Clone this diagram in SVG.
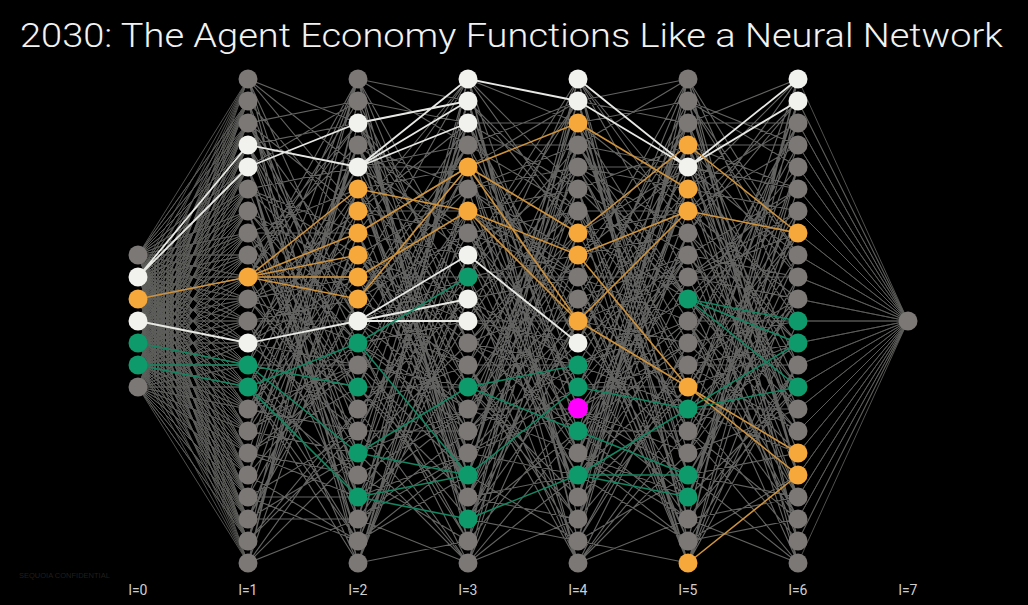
<svg xmlns="http://www.w3.org/2000/svg" xmlns:xlink="http://www.w3.org/1999/xlink" width="1028" height="605" viewBox="0 0 1028 605">
<style>
.bg{fill:#000}
.ge{fill:none;stroke:#636362;stroke-width:1.15;stroke-linejoin:round}
.fe{fill:none;stroke:#5e5e5c;stroke-width:0.85;stroke-linejoin:round}
.we{fill:none;stroke:#e8e8e4;stroke-width:1.8}
.oe{fill:none;stroke:#cf933c;stroke-width:1.6}
.ne{fill:none;stroke:#148560;stroke-width:1.6}
.ng{fill:#7b7875}
.nw{fill:#f1f1ed}
.no{fill:#f6a83b}
.nn{fill:#0f9a6c}
.nm{fill:#ff00ff}
.title{font-family:Roboto,"Liberation Sans",sans-serif;font-size:33px;font-weight:300;fill:#f2f2f2}
.lbl{font-family:Roboto,"Liberation Sans",sans-serif;font-size:14px;fill:#cfcfcf;text-anchor:middle}
.conf{font-family:"Liberation Sans",sans-serif;font-size:7.5px;fill:#1f1f1f}
</style>
<defs>
<path id="pA" class="ge" d="M0 79L110 123M0 79L110 321M0 79L110 211M0 79L110 497M0 79L110 409M0 79L110 167M0 101L110 233M0 101L110 519M0 101L110 387M0 101L110 563M0 123L110 343M0 123L110 211M0 123L110 321M0 123L110 277M0 123L110 101M0 145L110 453M0 145L110 409M0 145L110 123M0 145L110 167M0 145L110 365M0 145L110 321M0 167L110 563M0 167L110 101M0 167L110 431M0 167L110 519M0 167L110 541M0 189L110 167M0 189L110 299M0 189L110 233M0 189L110 453M0 189L110 255M0 211L110 277M0 211L110 497M0 211L110 541M0 211L110 343M0 211L110 321M0 211L110 475M0 233L110 387M0 233L110 189M0 233L110 343M0 233L110 233M0 233L110 475M0 255L110 497M0 255L110 387M0 255L110 145M0 255L110 123M0 255L110 409M0 277L110 101M0 277L110 79M0 277L110 453M0 277L110 519M0 277L110 277M0 277L110 123M0 299L110 211M0 299L110 277M0 299L110 255M0 299L110 409M0 299L110 431M0 299L110 343M0 321L110 321M0 321L110 475M0 321L110 563M0 321L110 299M0 321L110 79M0 343L110 431M0 343L110 167M0 343L110 365M0 343L110 189M0 343L110 233M0 343L110 277M0 365L110 541M0 365L110 365M0 365L110 167M0 365L110 79M0 365L110 387M0 365L110 497M0 387L110 145M0 387L110 563M0 387L110 475M0 387L110 541M0 387L110 211M0 409L110 255M0 409L110 277M0 409L110 365M0 409L110 189M0 409L110 431M0 431L110 365M0 431L110 453M0 431L110 79M0 431L110 255M0 431L110 343M0 431L110 145M0 453L110 475M0 453L110 145M0 453L110 387M0 453L110 497M0 453L110 365M0 475L110 79M0 475L110 343M0 475L110 189M0 475L110 541M0 475L110 145M0 497L110 189M0 497L110 541M0 497L110 497M0 497L110 431M0 497L110 299M0 519L110 299M0 519L110 233M0 519L110 321M0 519L110 453M0 519L110 519M0 541L110 409M0 541L110 431M0 541L110 101M0 541L110 211M0 541L110 233M0 563L110 519M0 563L110 123M0 563L110 409M0 563L110 101M0 563L110 255M0 563L110 453"/>
<path id="pB" class="ge" d="M0 79L110 145M0 79L110 541M0 79L110 453M0 79L110 277M0 79L110 343M0 79L110 101M0 101L110 497M0 101L110 321M0 101L110 123M0 101L110 519M0 101L110 475M0 123L110 343M0 123L110 101M0 123L110 299M0 123L110 255M0 123L110 431M0 145L110 189M0 145L110 387M0 145L110 475M0 145L110 497M0 145L110 233M0 145L110 343M0 167L110 541M0 167L110 167M0 167L110 145M0 167L110 233M0 167L110 365M0 167L110 255M0 189L110 387M0 189L110 453M0 189L110 321M0 189L110 475M0 189L110 497M0 189L110 167M0 211L110 233M0 211L110 497M0 211L110 211M0 211L110 123M0 211L110 79M0 233L110 79M0 233L110 519M0 233L110 167M0 233L110 453M0 233L110 255M0 233L110 497M0 255L110 431M0 255L110 299M0 255L110 343M0 255L110 189M0 255L110 387M0 255L110 409M0 277L110 277M0 277L110 79M0 277L110 519M0 277L110 431M0 277L110 321M0 299L110 123M0 299L110 365M0 299L110 189M0 299L110 167M0 299L110 145M0 299L110 233M0 321L110 475M0 321L110 145M0 321L110 365M0 321L110 409M0 321L110 277M0 343L110 321M0 343L110 431M0 343L110 541M0 343L110 145M0 343L110 409M0 343L110 563M0 365L110 167M0 365L110 211M0 365L110 387M0 365L110 541M0 365L110 475M0 387L110 519M0 387L110 497M0 387L110 387M0 387L110 123M0 387L110 167M0 409L110 365M0 409L110 277M0 409L110 563M0 409L110 299M0 431L110 211M0 431L110 563M0 431L110 233M0 431L110 101M0 431L110 431M0 453L110 563M0 453L110 343M0 453L110 409M0 453L110 123M0 475L110 409M0 475L110 123M0 475L110 79M0 475L110 189M0 475L110 541M0 497L110 255M0 497L110 409M0 497L110 321M0 497L110 453M0 519L110 101M0 519L110 189M0 519L110 431M0 519L110 563M0 519L110 453M0 519L110 365M0 541L110 453M0 541L110 475M0 541L110 101M0 541L110 299M0 541L110 79M0 541L110 277M0 563L110 299M0 563L110 255M0 563L110 277M0 563L110 541M0 563L110 211M0 563L110 189"/>
</defs>
<rect class="bg" x="0" y="0" width="1028" height="605"/>
<text class="title" x="20" y="47" textLength="983" lengthAdjust="spacingAndGlyphs">2030: The Agent Economy Functions Like a Neural Network</text>
<g id="connectors">
<path class="fe" d="M248 79L138 255 248 101 138 255 248 123 138 255 248 145 138 255 248 167 138 255 248 189 138 255 248 211 138 255 248 233 138 255 248 255 138 255 248 277 138 255 248 299 138 255 248 321 138 255 248 343 138 255 248 365 138 255 248 387 138 255 248 409 138 255 248 431 138 255 248 453 138 255 248 475 138 255 248 497 138 255 248 519 138 255 248 541 138 255 248 563"/>
<path class="fe" d="M248 79L138 277 248 101 138 277 248 123 138 277 248 145 138 277 248 167 138 277 248 189 138 277 248 211 138 277 248 233 138 277 248 255 138 277 248 277 138 277 248 299 138 277 248 321 138 277 248 343 138 277 248 365 138 277 248 387 138 277 248 409 138 277 248 431 138 277 248 453 138 277 248 475 138 277 248 497 138 277 248 519 138 277 248 541 138 277 248 563"/>
<path class="fe" d="M248 79L138 299 248 101 138 299 248 123 138 299 248 145 138 299 248 167 138 299 248 189 138 299 248 211 138 299 248 233 138 299 248 255 138 299 248 277 138 299 248 299 138 299 248 321 138 299 248 343 138 299 248 365 138 299 248 387 138 299 248 409 138 299 248 431 138 299 248 453 138 299 248 475 138 299 248 497 138 299 248 519 138 299 248 541 138 299 248 563"/>
<path class="fe" d="M248 79L138 321 248 101 138 321 248 123 138 321 248 145 138 321 248 167 138 321 248 189 138 321 248 211 138 321 248 233 138 321 248 255 138 321 248 277 138 321 248 299 138 321 248 321 138 321 248 343 138 321 248 365 138 321 248 387 138 321 248 409 138 321 248 431 138 321 248 453 138 321 248 475 138 321 248 497 138 321 248 519 138 321 248 541 138 321 248 563"/>
<path class="fe" d="M248 79L138 343 248 101 138 343 248 123 138 343 248 145 138 343 248 167 138 343 248 189 138 343 248 211 138 343 248 233 138 343 248 255 138 343 248 277 138 343 248 299 138 343 248 321 138 343 248 343 138 343 248 365 138 343 248 387 138 343 248 409 138 343 248 431 138 343 248 453 138 343 248 475 138 343 248 497 138 343 248 519 138 343 248 541 138 343 248 563"/>
<path class="fe" d="M248 79L138 365 248 101 138 365 248 123 138 365 248 145 138 365 248 167 138 365 248 189 138 365 248 211 138 365 248 233 138 365 248 255 138 365 248 277 138 365 248 299 138 365 248 321 138 365 248 343 138 365 248 365 138 365 248 387 138 365 248 409 138 365 248 431 138 365 248 453 138 365 248 475 138 365 248 497 138 365 248 519 138 365 248 541 138 365 248 563"/>
<path class="fe" d="M248 79L138 387 248 101 138 387 248 123 138 387 248 145 138 387 248 167 138 387 248 189 138 387 248 211 138 387 248 233 138 387 248 255 138 387 248 277 138 387 248 299 138 387 248 321 138 387 248 343 138 387 248 365 138 387 248 387 138 387 248 409 138 387 248 431 138 387 248 453 138 387 248 475 138 387 248 497 138 387 248 519 138 387 248 541 138 387 248 563"/>
<use xlink:href="#pA" href="#pA" transform="translate(248,0)"/>
<use xlink:href="#pB" href="#pB" transform="translate(358,0)"/>
<use xlink:href="#pA" href="#pA" transform="translate(468,642) scale(1,-1)"/>
<use xlink:href="#pB" href="#pB" transform="translate(688,0) scale(-1,1)"/>
<use xlink:href="#pA" href="#pA" transform="translate(798,642) scale(-1,-1)"/>
<path class="fe" d="M798 79L908 321 798 101 908 321 798 123 908 321 798 145 908 321 798 167 908 321 798 189 908 321 798 211 908 321 798 233 908 321 798 255 908 321 798 277 908 321 798 299 908 321 798 321 908 321 798 343 908 321 798 365 908 321 798 387 908 321 798 409 908 321 798 431 908 321 798 453 908 321 798 475 908 321 798 497 908 321 798 519 908 321 798 541 908 321 798 563"/>
<path class="we" d="M138 277L248 145M138 277L248 167M138 321L248 343M248 145L358 167M248 167L358 123M248 343L358 321M358 123L468 101M358 167L468 79M358 167L468 101M358 167L468 123M358 321L468 255M358 321L468 299M358 321L468 321M468 79L578 101M468 255L578 343M578 79L688 167M578 101L688 167M688 167L798 79M688 167L798 101"/>
<path class="oe" d="M138 299L248 277M248 277L358 189M248 277L358 233M248 277L358 255M248 277L358 277M248 277L358 299M358 189L468 211M358 233L468 167M358 299L468 167M358 277L468 211M468 167L578 123M468 167L578 233M468 167L578 321M468 211L578 255M468 211L578 321M578 123L688 189M578 233L688 145M578 255L688 211M578 255L688 387M578 321L688 387M578 321L688 211M688 145L798 233M688 211L798 233M688 387L798 453M688 387L798 475M688 563L798 475"/>
<path class="ne" d="M138 343L248 365M138 365L248 365M138 365L248 387M248 365L358 387M248 365L358 453M248 387L358 343M248 387L358 497M358 343L468 277M358 343L468 475M358 453L468 475M358 453L468 387M358 497L468 475M358 497L468 519M468 387L578 365M468 387L578 431M468 475L578 387M468 519L578 475M578 387L688 409M578 431L688 475M578 475L688 475M578 475L688 497M578 475L688 409M688 299L798 321M688 299L798 343M688 299L798 387M688 409L798 343M688 409L798 387"/>
</g>
<g id="layer0">
<g id="n0-0"><circle class="ng" cx="138" cy="255" r="9.5"/></g>
<g id="n0-1"><circle class="nw" cx="138" cy="277" r="9.5"/></g>
<g id="n0-2"><circle class="no" cx="138" cy="299" r="9.5"/></g>
<g id="n0-3"><circle class="nw" cx="138" cy="321" r="9.5"/></g>
<g id="n0-4"><circle class="nn" cx="138" cy="343" r="9.5"/></g>
<g id="n0-5"><circle class="nn" cx="138" cy="365" r="9.5"/></g>
<g id="n0-6"><circle class="ng" cx="138" cy="387" r="9.5"/></g>
</g>
<g id="layer1">
<g id="n1-0"><circle class="ng" cx="248" cy="79" r="9.5"/></g>
<g id="n1-1"><circle class="ng" cx="248" cy="101" r="9.5"/></g>
<g id="n1-2"><circle class="ng" cx="248" cy="123" r="9.5"/></g>
<g id="n1-3"><circle class="nw" cx="248" cy="145" r="9.5"/></g>
<g id="n1-4"><circle class="nw" cx="248" cy="167" r="9.5"/></g>
<g id="n1-5"><circle class="ng" cx="248" cy="189" r="9.5"/></g>
<g id="n1-6"><circle class="ng" cx="248" cy="211" r="9.5"/></g>
<g id="n1-7"><circle class="ng" cx="248" cy="233" r="9.5"/></g>
<g id="n1-8"><circle class="ng" cx="248" cy="255" r="9.5"/></g>
<g id="n1-9"><circle class="no" cx="248" cy="277" r="9.5"/></g>
<g id="n1-10"><circle class="ng" cx="248" cy="299" r="9.5"/></g>
<g id="n1-11"><circle class="ng" cx="248" cy="321" r="9.5"/></g>
<g id="n1-12"><circle class="nw" cx="248" cy="343" r="9.5"/></g>
<g id="n1-13"><circle class="nn" cx="248" cy="365" r="9.5"/></g>
<g id="n1-14"><circle class="nn" cx="248" cy="387" r="9.5"/></g>
<g id="n1-15"><circle class="ng" cx="248" cy="409" r="9.5"/></g>
<g id="n1-16"><circle class="ng" cx="248" cy="431" r="9.5"/></g>
<g id="n1-17"><circle class="ng" cx="248" cy="453" r="9.5"/></g>
<g id="n1-18"><circle class="ng" cx="248" cy="475" r="9.5"/></g>
<g id="n1-19"><circle class="ng" cx="248" cy="497" r="9.5"/></g>
<g id="n1-20"><circle class="ng" cx="248" cy="519" r="9.5"/></g>
<g id="n1-21"><circle class="ng" cx="248" cy="541" r="9.5"/></g>
<g id="n1-22"><circle class="ng" cx="248" cy="563" r="9.5"/></g>
</g>
<g id="layer2">
<g id="n2-0"><circle class="ng" cx="358" cy="79" r="9.5"/></g>
<g id="n2-1"><circle class="ng" cx="358" cy="101" r="9.5"/></g>
<g id="n2-2"><circle class="nw" cx="358" cy="123" r="9.5"/></g>
<g id="n2-3"><circle class="ng" cx="358" cy="145" r="9.5"/></g>
<g id="n2-4"><circle class="nw" cx="358" cy="167" r="9.5"/></g>
<g id="n2-5"><circle class="no" cx="358" cy="189" r="9.5"/></g>
<g id="n2-6"><circle class="no" cx="358" cy="211" r="9.5"/></g>
<g id="n2-7"><circle class="no" cx="358" cy="233" r="9.5"/></g>
<g id="n2-8"><circle class="no" cx="358" cy="255" r="9.5"/></g>
<g id="n2-9"><circle class="no" cx="358" cy="277" r="9.5"/></g>
<g id="n2-10"><circle class="no" cx="358" cy="299" r="9.5"/></g>
<g id="n2-11"><circle class="nw" cx="358" cy="321" r="9.5"/></g>
<g id="n2-12"><circle class="nn" cx="358" cy="343" r="9.5"/></g>
<g id="n2-13"><circle class="ng" cx="358" cy="365" r="9.5"/></g>
<g id="n2-14"><circle class="nn" cx="358" cy="387" r="9.5"/></g>
<g id="n2-15"><circle class="ng" cx="358" cy="409" r="9.5"/></g>
<g id="n2-16"><circle class="ng" cx="358" cy="431" r="9.5"/></g>
<g id="n2-17"><circle class="nn" cx="358" cy="453" r="9.5"/></g>
<g id="n2-18"><circle class="ng" cx="358" cy="475" r="9.5"/></g>
<g id="n2-19"><circle class="nn" cx="358" cy="497" r="9.5"/></g>
<g id="n2-20"><circle class="ng" cx="358" cy="519" r="9.5"/></g>
<g id="n2-21"><circle class="ng" cx="358" cy="541" r="9.5"/></g>
<g id="n2-22"><circle class="ng" cx="358" cy="563" r="9.5"/></g>
</g>
<g id="layer3">
<g id="n3-0"><circle class="nw" cx="468" cy="79" r="9.5"/></g>
<g id="n3-1"><circle class="nw" cx="468" cy="101" r="9.5"/></g>
<g id="n3-2"><circle class="nw" cx="468" cy="123" r="9.5"/></g>
<g id="n3-3"><circle class="ng" cx="468" cy="145" r="9.5"/></g>
<g id="n3-4"><circle class="no" cx="468" cy="167" r="9.5"/></g>
<g id="n3-5"><circle class="ng" cx="468" cy="189" r="9.5"/></g>
<g id="n3-6"><circle class="no" cx="468" cy="211" r="9.5"/></g>
<g id="n3-7"><circle class="ng" cx="468" cy="233" r="9.5"/></g>
<g id="n3-8"><circle class="nw" cx="468" cy="255" r="9.5"/></g>
<g id="n3-9"><circle class="nn" cx="468" cy="277" r="9.5"/></g>
<g id="n3-10"><circle class="nw" cx="468" cy="299" r="9.5"/></g>
<g id="n3-11"><circle class="nw" cx="468" cy="321" r="9.5"/></g>
<g id="n3-12"><circle class="ng" cx="468" cy="343" r="9.5"/></g>
<g id="n3-13"><circle class="ng" cx="468" cy="365" r="9.5"/></g>
<g id="n3-14"><circle class="nn" cx="468" cy="387" r="9.5"/></g>
<g id="n3-15"><circle class="ng" cx="468" cy="409" r="9.5"/></g>
<g id="n3-16"><circle class="ng" cx="468" cy="431" r="9.5"/></g>
<g id="n3-17"><circle class="ng" cx="468" cy="453" r="9.5"/></g>
<g id="n3-18"><circle class="nn" cx="468" cy="475" r="9.5"/></g>
<g id="n3-19"><circle class="ng" cx="468" cy="497" r="9.5"/></g>
<g id="n3-20"><circle class="nn" cx="468" cy="519" r="9.5"/></g>
<g id="n3-21"><circle class="ng" cx="468" cy="541" r="9.5"/></g>
<g id="n3-22"><circle class="ng" cx="468" cy="563" r="9.5"/></g>
</g>
<g id="layer4">
<g id="n4-0"><circle class="nw" cx="578" cy="79" r="9.5"/></g>
<g id="n4-1"><circle class="nw" cx="578" cy="101" r="9.5"/></g>
<g id="n4-2"><circle class="no" cx="578" cy="123" r="9.5"/></g>
<g id="n4-3"><circle class="ng" cx="578" cy="145" r="9.5"/></g>
<g id="n4-4"><circle class="ng" cx="578" cy="167" r="9.5"/></g>
<g id="n4-5"><circle class="ng" cx="578" cy="189" r="9.5"/></g>
<g id="n4-6"><circle class="ng" cx="578" cy="211" r="9.5"/></g>
<g id="n4-7"><circle class="no" cx="578" cy="233" r="9.5"/></g>
<g id="n4-8"><circle class="no" cx="578" cy="255" r="9.5"/></g>
<g id="n4-9"><circle class="ng" cx="578" cy="277" r="9.5"/></g>
<g id="n4-10"><circle class="ng" cx="578" cy="299" r="9.5"/></g>
<g id="n4-11"><circle class="no" cx="578" cy="321" r="9.5"/></g>
<g id="n4-12"><circle class="nw" cx="578" cy="343" r="9.5"/></g>
<g id="n4-13"><circle class="nn" cx="578" cy="365" r="9.5"/></g>
<g id="n4-14"><circle class="nn" cx="578" cy="387" r="9.5"/></g>
<g id="n4-15"><circle class="ng" cx="578" cy="409" r="9.5"/><circle class="nm" cx="578" cy="408" r="10"/></g>
<g id="n4-16"><circle class="nn" cx="578" cy="431" r="9.5"/></g>
<g id="n4-17"><circle class="ng" cx="578" cy="453" r="9.5"/></g>
<g id="n4-18"><circle class="nn" cx="578" cy="475" r="9.5"/></g>
<g id="n4-19"><circle class="ng" cx="578" cy="497" r="9.5"/></g>
<g id="n4-20"><circle class="ng" cx="578" cy="519" r="9.5"/></g>
<g id="n4-21"><circle class="ng" cx="578" cy="541" r="9.5"/></g>
<g id="n4-22"><circle class="ng" cx="578" cy="563" r="9.5"/></g>
</g>
<g id="layer5">
<g id="n5-0"><circle class="ng" cx="688" cy="79" r="9.5"/></g>
<g id="n5-1"><circle class="ng" cx="688" cy="101" r="9.5"/></g>
<g id="n5-2"><circle class="ng" cx="688" cy="123" r="9.5"/></g>
<g id="n5-3"><circle class="no" cx="688" cy="145" r="9.5"/></g>
<g id="n5-4"><circle class="nw" cx="688" cy="167" r="9.5"/></g>
<g id="n5-5"><circle class="no" cx="688" cy="189" r="9.5"/></g>
<g id="n5-6"><circle class="no" cx="688" cy="211" r="9.5"/></g>
<g id="n5-7"><circle class="ng" cx="688" cy="233" r="9.5"/></g>
<g id="n5-8"><circle class="ng" cx="688" cy="255" r="9.5"/></g>
<g id="n5-9"><circle class="ng" cx="688" cy="277" r="9.5"/></g>
<g id="n5-10"><circle class="nn" cx="688" cy="299" r="9.5"/></g>
<g id="n5-11"><circle class="ng" cx="688" cy="321" r="9.5"/></g>
<g id="n5-12"><circle class="ng" cx="688" cy="343" r="9.5"/></g>
<g id="n5-13"><circle class="ng" cx="688" cy="365" r="9.5"/></g>
<g id="n5-14"><circle class="no" cx="688" cy="387" r="9.5"/></g>
<g id="n5-15"><circle class="nn" cx="688" cy="409" r="9.5"/></g>
<g id="n5-16"><circle class="ng" cx="688" cy="431" r="9.5"/></g>
<g id="n5-17"><circle class="ng" cx="688" cy="453" r="9.5"/></g>
<g id="n5-18"><circle class="nn" cx="688" cy="475" r="9.5"/></g>
<g id="n5-19"><circle class="nn" cx="688" cy="497" r="9.5"/></g>
<g id="n5-20"><circle class="ng" cx="688" cy="519" r="9.5"/></g>
<g id="n5-21"><circle class="ng" cx="688" cy="541" r="9.5"/></g>
<g id="n5-22"><circle class="no" cx="688" cy="563" r="9.5"/></g>
</g>
<g id="layer6">
<g id="n6-0"><circle class="nw" cx="798" cy="79" r="9.5"/></g>
<g id="n6-1"><circle class="nw" cx="798" cy="101" r="9.5"/></g>
<g id="n6-2"><circle class="ng" cx="798" cy="123" r="9.5"/></g>
<g id="n6-3"><circle class="ng" cx="798" cy="145" r="9.5"/></g>
<g id="n6-4"><circle class="ng" cx="798" cy="167" r="9.5"/></g>
<g id="n6-5"><circle class="ng" cx="798" cy="189" r="9.5"/></g>
<g id="n6-6"><circle class="ng" cx="798" cy="211" r="9.5"/></g>
<g id="n6-7"><circle class="no" cx="798" cy="233" r="9.5"/></g>
<g id="n6-8"><circle class="ng" cx="798" cy="255" r="9.5"/></g>
<g id="n6-9"><circle class="ng" cx="798" cy="277" r="9.5"/></g>
<g id="n6-10"><circle class="ng" cx="798" cy="299" r="9.5"/></g>
<g id="n6-11"><circle class="nn" cx="798" cy="321" r="9.5"/></g>
<g id="n6-12"><circle class="nn" cx="798" cy="343" r="9.5"/></g>
<g id="n6-13"><circle class="ng" cx="798" cy="365" r="9.5"/></g>
<g id="n6-14"><circle class="nn" cx="798" cy="387" r="9.5"/></g>
<g id="n6-15"><circle class="ng" cx="798" cy="409" r="9.5"/></g>
<g id="n6-16"><circle class="ng" cx="798" cy="431" r="9.5"/></g>
<g id="n6-17"><circle class="no" cx="798" cy="453" r="9.5"/></g>
<g id="n6-18"><circle class="no" cx="798" cy="475" r="9.5"/></g>
<g id="n6-19"><circle class="ng" cx="798" cy="497" r="9.5"/></g>
<g id="n6-20"><circle class="ng" cx="798" cy="519" r="9.5"/></g>
<g id="n6-21"><circle class="ng" cx="798" cy="541" r="9.5"/></g>
<g id="n6-22"><circle class="ng" cx="798" cy="563" r="9.5"/></g>
</g>
<g id="layer7">
<g id="n7-0"><circle class="ng" cx="908" cy="321" r="9.5"/></g>
</g>
<g id="labels">
<text class="lbl" x="138" y="595">l=0</text>
<text class="lbl" x="248" y="595">l=1</text>
<text class="lbl" x="358" y="595">l=2</text>
<text class="lbl" x="468" y="595">l=3</text>
<text class="lbl" x="578" y="595">l=4</text>
<text class="lbl" x="688" y="595">l=5</text>
<text class="lbl" x="798" y="595">l=6</text>
<text class="lbl" x="908" y="595">l=7</text>
</g>
<text class="conf" x="19" y="578">SEQUOIA CONFIDENTIAL</text>
</svg>
